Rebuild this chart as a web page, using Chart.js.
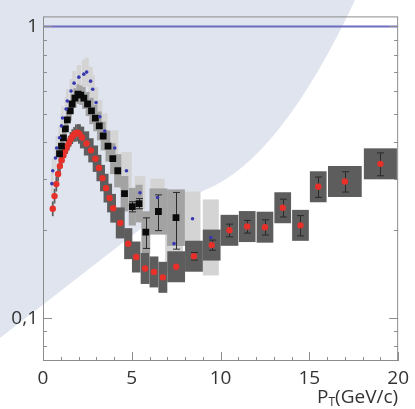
<!DOCTYPE html>
<html lang="en">
<head>
<meta charset="UTF-8">
<title>R vs pT</title>
<script src="https://cdn.jsdelivr.net/npm/chart.js"></script>
<style>
  html, body { margin: 0; padding: 0; background: #fff; }
  #wrap { width: 415px; height: 409px; }
</style>
</head>
<body>
<div id="wrap"><canvas id="chart" width="415" height="409"></canvas></div>
<script>
// red circles (dark gray boxes)
const redPt   = [0.55,0.65,0.75,0.85,0.95,1.05,1.15,1.25,1.35,1.45,1.55,1.65,1.75,1.85,1.95,2.05,2.2,2.45,2.7,2.95,3.15,3.35,3.55,3.75,3.95,4.35,4.8,5.25,5.75,6.25,6.75,7.5,8.5,9.5,10.5,11.5,12.5,13.5,14.5,15.5,17,19];
const redVal  = [0.237,0.262,0.288,0.312,0.332,0.348,0.362,0.375,0.387,0.398,0.41,0.419,0.426,0.431,0.432,0.428,0.416,0.397,0.376,0.352,0.327,0.302,0.279,0.258,0.238,0.212,0.18,0.162,0.148,0.144,0.138,0.15,0.163,0.178,0.2,0.206,0.205,0.239,0.208,0.282,0.294,0.338];
const redDx   = [0.05,0.05,0.05,0.05,0.05,0.05,0.05,0.05,0.05,0.05,0.05,0.05,0.05,0.05,0.06,0.08,0.12,0.15,0.15,0.15,0.14,0.14,0.14,0.14,0.16,0.25,0.23,0.24,0.25,0.25,0.25,0.5,0.5,0.5,0.5,0.47,0.47,0.47,0.47,0.47,0.95,0.93];
const redSys  = [0.06,0.06,0.06,0.06,0.06,0.06,0.06,0.06,0.06,0.06,0.06,0.06,0.06,0.07,0.07,0.08,0.09,0.1,0.1,0.11,0.11,0.11,0.12,0.12,0.12,0.13,0.13,0.13,0.13,0.13,0.13,0.13,0.13,0.13,0.13,0.13,0.13,0.13,0.13,0.13,0.13,0.13];
const redStat = [0,0,0,0,0,0,0,0,0,0,0,0,0,0,0,0,0,0,0,0,0,0,0,0,0,0,0,0,0,0,0,0,0.03,0.04,0.05,0.05,0.06,0.07,0.08,0.08,0.08,0.09];

// black squares (mid gray boxes)
const blackPt   = [0.93,1.04,1.15,1.26,1.37,1.53,1.64,1.8,1.97,2.13,2.3,2.51,2.73,2.95,3.17,3.39,3.66,3.93,4.21,4.59,5.03,5.41,5.79,6.5,7.49];
const blackVal  = [0.366,0.389,0.415,0.445,0.478,0.513,0.542,0.568,0.586,0.581,0.568,0.542,0.513,0.485,0.456,0.421,0.389,0.352,0.32,0.267,0.241,0.247,0.197,0.232,0.221];
const blackDx   = [0.07,0.07,0.07,0.07,0.07,0.09,0.09,0.09,0.09,0.09,0.1,0.11,0.12,0.12,0.13,0.14,0.14,0.15,0.2,0.22,0.2,0.2,0.25,0.5,0.5];
const blackSys  = [0.08,0.08,0.08,0.08,0.08,0.08,0.08,0.08,0.08,0.08,0.09,0.1,0.11,0.11,0.12,0.12,0.13,0.13,0.14,0.15,0.16,0.16,0.18,0.2,0.25];
const blackStat = [0,0,0,0,0,0,0,0,0,0,0,0,0,0,0,0,0,0,0,0,0.04,0.04,0.12,0.14,0.22];

// blue dots (light gray boxes)
const bluePt  = [0.5,0.55,0.7,0.77,0.93,1.04,1.1,1.3,1.37,1.58,1.75,2.02,2.3,2.46,2.68,2.8,2.99,3.2,3.48,4.04,4.7,5.46,6.45,7.38,8.42,9.45];
const blueVal = [0.289,0.32,0.354,0.383,0.415,0.456,0.485,0.521,0.555,0.6,0.639,0.67,0.686,0.697,0.649,0.609,0.548,0.49,0.438,0.383,0.32,0.269,0.259,0.18,0.219,0.189];
const blueDx  = [0.06,0.06,0.06,0.06,0.06,0.06,0.06,0.08,0.08,0.08,0.1,0.12,0.12,0.12,0.12,0.12,0.12,0.15,0.15,0.2,0.3,0.3,0.4,0.5,0.45,0.45];
const blueSys = [0.1,0.1,0.1,0.1,0.1,0.1,0.1,0.1,0.1,0.1,0.1,0.1,0.12,0.12,0.12,0.12,0.13,0.14,0.15,0.15,0.16,0.14,0.16,0.25,0.24,0.35];

// reference line at 1
const refX = [0, 20];
const refY = [1, 1];

const xTickValues = [0, 5, 10, 15, 20];
const yLabelValues = [1, 0.1];
const yLabelText = ['1', '0,1'];

const toXY = (xs, ys) => xs.map((v, i) => ({ x: v, y: ys[i] }));

const FONT = '"Open Sans", "DejaVu Sans", sans-serif';
const AXIS = '#8c8c8c';

function drawBoxes(ctx, x, y, pts, vals, dx, sys, color) {
  ctx.fillStyle = color;
  pts.forEach((p, i) => {
    const l = x.getPixelForValue(p - dx[i]);
    const r = x.getPixelForValue(p + dx[i]);
    const t = y.getPixelForValue(vals[i] * (1 + sys[i]));
    const b = y.getPixelForValue(vals[i] / (1 + sys[i]));
    ctx.fillRect(l, t, r - l, b - t);
  });
}

function drawErrors(ctx, x, y, pts, vals, stat) {
  ctx.strokeStyle = '#2a2a2a';
  ctx.lineWidth = 1;
  pts.forEach((p, i) => {
    if (!stat[i]) return;
    const px = Math.round(x.getPixelForValue(p)) + 0.5;
    const t = y.getPixelForValue(vals[i] * (1 + stat[i]));
    const b = y.getPixelForValue(vals[i] * (1 - stat[i]));
    ctx.beginPath();
    ctx.moveTo(px, t); ctx.lineTo(px, b);
    ctx.moveTo(px - 3.5, t); ctx.lineTo(px + 3.5, t);
    ctx.moveTo(px - 3.5, b); ctx.lineTo(px + 3.5, b);
    ctx.stroke();
  });
}

const backdrop = {
  id: 'backdrop',
  beforeDraw(chart) {
    const ctx = chart.ctx;
    ctx.save();
    ctx.fillStyle = '#ffffff';
    ctx.fillRect(0, 0, chart.width, chart.height);
    // pale blue swoosh behind the plot
    ctx.fillStyle = '#dfe4ee';
    ctx.beginPath();
    ctx.moveTo(0, 0);
    ctx.lineTo(355, 0);
    ctx.quadraticCurveTo(280, 160, 205, 190);
    ctx.quadraticCurveTo(185, 200, 165, 210);
    ctx.lineTo(0, 338);
    ctx.closePath();
    ctx.fill();
    ctx.restore();
  }
};

const sysBoxes = {
  id: 'sysBoxes',
  beforeDatasetsDraw(chart) {
    const { ctx, chartArea: a, scales: { x, y } } = chart;
    ctx.save();
    ctx.beginPath();
    ctx.rect(a.left, a.top, a.width, a.height);
    ctx.clip();
    drawBoxes(ctx, x, y, bluePt, blueVal, blueDx, blueSys, '#d4d4d4');
    drawBoxes(ctx, x, y, blackPt, blackVal, blackDx, blackSys, '#a3a3a3');
    drawBoxes(ctx, x, y, redPt, redVal, redDx, redSys, '#5d5d5d');
    drawErrors(ctx, x, y, blackPt, blackVal, blackStat);
    drawErrors(ctx, x, y, redPt, redVal, redStat);
    ctx.restore();
  }
};

const frame = {
  id: 'frame',
  afterDatasetsDraw(chart) {
    const { ctx, chartArea: a, scales: { x, y } } = chart;
    ctx.save();
    ctx.strokeStyle = AXIS;
    ctx.lineWidth = 1;
    ctx.strokeRect(a.left + 0.5, a.top + 0.5, a.width - 1, a.height - 1);
    ctx.beginPath();
    // x ticks, pointing up
    for (let v = 0; v <= 20; v++) {
      const px = Math.round(x.getPixelForValue(v)) + 0.5;
      const len = xTickValues.includes(v) ? 9 : 4;
      ctx.moveTo(px, a.bottom); ctx.lineTo(px, a.bottom - len);
    }
    // y ticks on both sides
    const yt = [0.08, 0.09, 0.1, 0.2, 0.3, 0.4, 0.5, 0.6, 0.7, 0.8, 0.9, 1];
    yt.forEach(v => {
      const py = Math.round(y.getPixelForValue(v)) + 0.5;
      const len = yLabelValues.includes(v) ? 9 : 4;
      ctx.moveTo(a.left, py); ctx.lineTo(a.left + len, py);
      ctx.moveTo(a.right, py); ctx.lineTo(a.right - len, py);
    });
    ctx.stroke();
    ctx.restore();
  },
  afterDraw(chart) {
    const ctx = chart.ctx;
    const right = chart.chartArea.right;
    ctx.save();
    ctx.fillStyle = '#333';
    ctx.textBaseline = 'alphabetic';
    ctx.font = '19px ' + FONT;
    const tail = '(GeV/c)';
    const wTail = ctx.measureText(tail).width;
    const wP = ctx.measureText('P').width;
    ctx.font = '12px ' + FONT;
    const wT = ctx.measureText('T').width;
    const x0 = right - wTail - wT - wP;
    ctx.font = '19px ' + FONT;
    ctx.fillText('P', x0, 403);
    ctx.fillText(tail, x0 + wP + wT, 403);
    ctx.font = '12px ' + FONT;
    ctx.fillText('T', x0 + wP, 406);
    ctx.restore();
  }
};

new Chart(document.getElementById('chart'), {
  type: 'scatter',
  data: {
    datasets: [
      {
        type: 'line',
        data: toXY(refX, refY),
        borderColor: '#6c6cbf',
        borderWidth: 2,
        pointRadius: 0
      },
      {
        data: toXY(bluePt, blueVal),
        pointStyle: 'circle',
        pointRadius: 1.8,
        backgroundColor: '#3838b0',
        borderWidth: 0
      },
      {
        data: toXY(blackPt, blackVal),
        pointStyle: 'rect',
        pointRadius: 4.8,
        backgroundColor: '#0a0a0a',
        borderWidth: 0
      },
      {
        data: toXY(redPt, redVal),
        pointStyle: 'circle',
        pointRadius: 3.2,
        backgroundColor: '#e8302a',
        borderWidth: 0
      }
    ]
  },
  options: {
    responsive: false,
    animation: false,
    events: [],
    layout: { padding: { top: 15, right: 6, left: 0, bottom: 0 } },
    plugins: { legend: { display: false }, tooltip: { enabled: false } },
    scales: {
      x: {
        type: 'linear',
        min: 0,
        max: 20,
        grid: { display: false, drawTicks: false },
        border: { display: false },
        ticks: {
          stepSize: 5,
          padding: 6,
          color: '#333',
          font: { family: FONT, size: 19 },
          maxRotation: 0
        },
        afterFit(s) { s.height = 48; }
      },
      y: {
        type: 'logarithmic',
        min: 0.0713,
        max: 1.082,
        grid: { display: false, drawTicks: false },
        border: { display: false },
        ticks: {
          autoSkip: false,
          padding: 5,
          color: '#333',
          font: { family: FONT, size: 19 },
          callback(v) {
            const k = yLabelValues.findIndex(t => Math.abs(t - v) < 1e-9);
            return k >= 0 ? yLabelText[k] : '';
          }
        },
        afterFit(s) { s.width = 43; }
      }
    }
  },
  plugins: [backdrop, sysBoxes, frame]
});
</script>
</body>
</html>
